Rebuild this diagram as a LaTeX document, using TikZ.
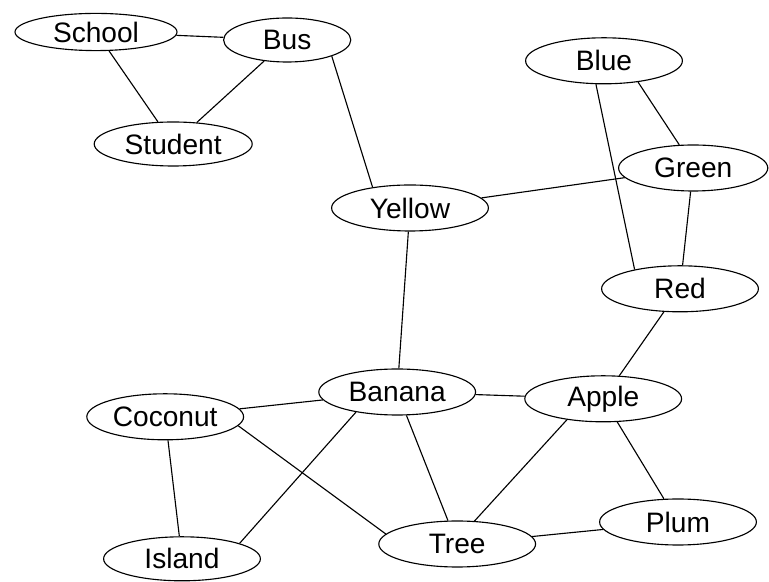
\documentclass[tikz,border=0pt]{standalone}
\usepackage{fontspec}
\setmainfont{Liberation Sans}
\usetikzlibrary{shapes.geometric}

\begin{document}
\begin{tikzpicture}[line width=0.8pt,
    term/.style={ellipse,draw,inner sep=0pt,minimum width=3.92cm,minimum height=1.15cm,
        font=\fontsize{20pt}{23pt}\selectfont}]
            \fill[white] (0,0) rectangle (19.225,14.55);
            % top left group
            \node (school) at (2.40,13.75) [term,minimum width=4.05cm,minimum height=0.93cm] {School};
            \node (bus) at (7.18,13.55) [term,minimum width=3.18cm,minimum height=1.1cm] {Bus};
            \node (student) at (4.33,10.95) [term,minimum width=3.95cm,minimum height=1.1cm] {Student};
            % colours
            \node (blue) at (15.10,13.03) [term] {Blue};
            \node (green) at (17.33,10.35) [term,minimum width=3.73cm] {Green};
            \node (yellow) at (10.25,9.35) [term] {Yellow};
            \node (red) at (17.00,7.33) [term] {Red};
            % fruit and the rest
            \node (banana) at (9.93,4.75) [term] {Banana};
            \node (apple) at (15.08,4.58) [term] {Apple};
            \node (coconut) at (4.13,4.13) [term] {Coconut};
            \node (plum) at (16.95,1.50) [term] {Plum};
            \node (tree) at (11.43,0.95) [term] {Tree};
            \node (island) at (4.55,0.58) [term,minimum height=1.1cm] {Island};
            \draw (school) -- (bus);
            \draw (school) -- (student);
            \draw (bus) -- (student);
            \draw (bus.340) -- (yellow.151);
            \draw (blue.328) -- (green.121);
            \draw (blue.251) -- (red.157);
            \draw (green) -- (red);
            \draw (green) -- (yellow);
            \draw (yellow) -- (banana);
            \draw (red) -- (apple);
            \draw (banana) -- (apple);
            \draw (banana) -- (coconut);
            \draw (banana) -- (tree);
            \draw (banana.206) -- (island.15);
            \draw (coconut) -- (island);
            \draw (coconut.353) -- (tree.172);
            \draw (apple.210) -- (tree.53);
            \draw (apple) -- (plum);
            \draw (tree) -- (plum);
        \end{tikzpicture}
\end{document}
